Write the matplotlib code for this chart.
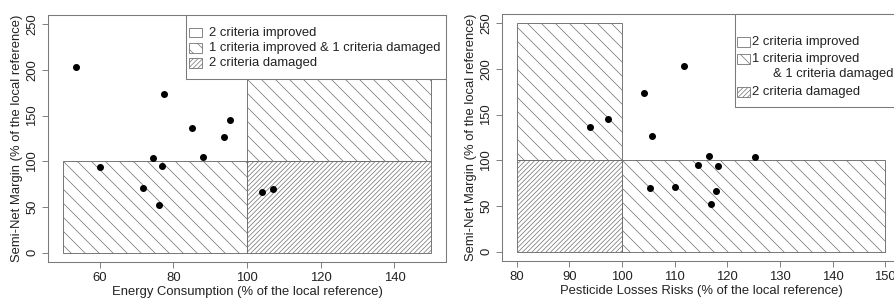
import matplotlib.pyplot as plt
from matplotlib.patches import Rectangle

# Valeurs (% de la reference locale)
marge = [203.5, 173.5, 145.5, 136, 126.5, 105, 103.5, 95, 93.5, 70.5, 70, 66, 52]
energie = [53.5, 77.5, 95.3, 85, 93.7, 88, 74.6, 77, 60, 71.8, 107, 104, 76.2]
pesticides = [111.7, 104.2, 97.4, 93.9, 105.6, 116.6, 125.2, 114.5, 118.3, 110.1, 105.3, 117.8, 116.9]

legende_gauche = ["2 criteria improved", "1 criteria improved & 1 criteria damaged", "2 criteria damaged"]
legende_droite = ["2 criteria improved", "1 criteria improved", "& 1 criteria damaged", "2 criteria damaged"]

plt.rcParams['font.family'] = ['Liberation Sans', 'DejaVu Sans']
plt.rcParams['hatch.linewidth'] = 0.6

DPI = 84
fig = plt.figure(figsize=(894 / DPI, 300 / DPI), dpi=DPI)
gris = '#7a7a7a'
texte = '#222222'
fs = 11.1

HATCH_SIMPLE = '\\\\'
HATCH_DENSE = '//////'


def zone(ax, x0, x1, y0, y1, hatch):
    ax.add_patch(Rectangle((x0, y0), x1 - x0, y1 - y0, facecolor='none',
                           edgecolor='#707070', hatch=hatch, linewidth=0.8, zorder=1))


def habillage(ax, xlim, xticks, xlabel):
    ax.set_xlim(*xlim)
    ax.set_ylim(-10, 260)
    ax.set_xticks(xticks)
    ax.set_yticks(range(0, 251, 50))
    for s in ax.spines.values():
        s.set_color(gris)
        s.set_linewidth(0.9)
    ax.tick_params(colors=gris, labelcolor=texte, labelsize=fs, length=5, width=0.8)
    for lab in ax.get_yticklabels():
        lab.set_rotation(90)
        lab.set_va('center')
    ax.set_xlabel(xlabel, fontsize=fs, color=texte, labelpad=2)
    ax.set_ylabel("Semi-Net Margin (% of the local reference)", fontsize=fs, color=texte, labelpad=3)


# --- Graphique de gauche : energie ---
ax1 = fig.add_axes([48 / 894, 38 / 300, 398 / 894, 247 / 300])
zone(ax1, 50, 100, 0, 100, HATCH_SIMPLE)
zone(ax1, 100, 150, 100, 250, HATCH_SIMPLE)
zone(ax1, 100, 150, 0, 100, HATCH_DENSE)
ax1.scatter(energie, marge, s=36, color='black', zorder=3, linewidths=0)
habillage(ax1, (46, 154), range(60, 141, 20), "Energy Consumption (% of the local reference)")

# legende
t = ax1.transAxes
ax1.add_patch(Rectangle((0.347, 0.741), 0.653, 0.259, transform=t, facecolor='white',
                        edgecolor=gris, linewidth=0.9, zorder=4))
hatches = [None, HATCH_SIMPLE, HATCH_DENSE]
for i, (lab, h) in enumerate(zip(legende_gauche, hatches)):
    y = 0.929 - i * 0.0625
    ax1.add_patch(Rectangle((0.354, y - 0.02), 0.033, 0.04, transform=t, facecolor='white',
                            edgecolor='#707070', hatch=h, linewidth=0.7, zorder=5))
    ax1.text(0.405, y, lab, transform=t, fontsize=fs, color=texte, va='center', zorder=6)

# --- Graphique de droite : pesticides ---
ax2 = fig.add_axes([502 / 894, 39 / 300, 398 / 894, 247 / 300])
zone(ax2, 80, 100, 100, 250, HATCH_SIMPLE)
zone(ax2, 80, 100, 0, 100, HATCH_DENSE)
zone(ax2, 100, 150, 0, 100, HATCH_SIMPLE)
ax2.scatter(pesticides, marge, s=36, color='black', zorder=3, linewidths=0)
habillage(ax2, (77.2, 152.8), range(80, 151, 10), "Pesticide Losses Risks (% of the local reference)")

t = ax2.transAxes
ax2.add_patch(Rectangle((0.585, 0.623), 0.415, 0.377, transform=t, facecolor='white',
                        edgecolor=gris, linewidth=0.9, zorder=4, clip_on=False))
rangs = [0.887, 0.818, 0.757, 0.684]
swatch = [None, HATCH_SIMPLE, 'skip', HATCH_DENSE]
for y, lab, h in zip(rangs, legende_droite, swatch):
    x = 0.681 if h == 'skip' else 0.627
    if h != 'skip':
        ax2.add_patch(Rectangle((0.590, y - 0.02), 0.033, 0.04, transform=t, facecolor='white',
                                edgecolor='#707070', hatch=h, linewidth=0.7, zorder=5))
    ax2.text(x, y, lab, transform=t, fontsize=fs, color=texte, va='center', zorder=6)

fig.savefig('out.png', dpi=DPI)
